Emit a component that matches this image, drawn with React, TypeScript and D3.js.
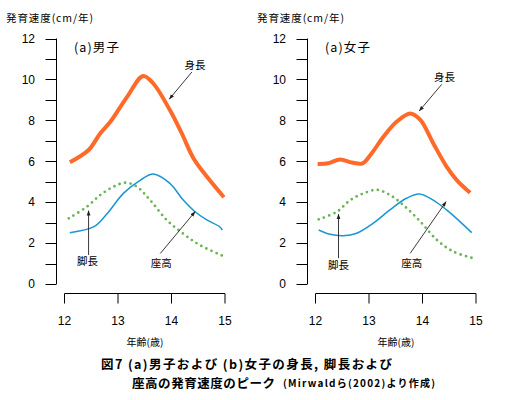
import React, { useEffect, useRef } from "react";
import * as d3 from "d3";

// 男子
const boysHeightAge = [12.1, 12.45, 12.67, 12.86, 13.17, 13.47, 13.66, 13.97, 14.19, 14.41, 14.66, 14.98];
const boysHeight = [5.95, 6.55, 7.37, 7.94, 9.15, 10.17, 9.8, 8.5, 7.37, 6.15, 5.25, 4.24];
const boysSitAge = [12.1, 12.55, 12.8, 13.1, 13.42, 13.66, 13.97, 14.22, 14.44, 14.66, 14.9, 14.95];
const boysSit = [2.51, 2.8, 3.45, 4.43, 5.08, 5.38, 4.92, 4.1, 3.53, 3.13, 2.8, 2.64];
const boysLegAge = [12.08, 12.42, 12.67, 12.92, 13.14, 13.35, 13.6, 13.91, 14.22, 14.53, 15.0];
const boysLeg = [3.21, 3.78, 4.35, 4.76, 4.95, 4.76, 4.1, 3.13, 2.46, 1.9, 1.33];

// 女子
const girlsHeightAge = [12.04, 12.24, 12.46, 12.68, 12.88, 13.05, 13.27, 13.52, 13.77, 13.96, 14.2, 14.45, 14.64, 14.89];
const girlsHeight = [5.87, 5.9, 6.09, 5.94, 5.9, 6.39, 7.2, 7.94, 8.34, 8.02, 6.88, 5.74, 5.08, 4.46];
const girlsSitAge = [12.06, 12.27, 12.52, 12.77, 13.08, 13.39, 13.7, 13.94, 14.2, 14.45, 14.7, 14.92];
const girlsSit = [2.64, 2.43, 2.36, 2.48, 2.97, 3.62, 4.19, 4.4, 4.1, 3.62, 3.05, 2.51];
const girlsLegAge = [12.06, 12.4, 12.65, 12.9, 13.15, 13.39, 13.64, 13.96, 14.27, 14.58, 14.95];
const girlsLeg = [3.16, 3.53, 4.1, 4.43, 4.6, 4.35, 3.86, 3.05, 2.15, 1.58, 1.26];

const xTicks = [12, 13, 14, 15];
const yTicks = [0, 2, 4, 6, 8, 10, 12];
const yMinorTicks = [1, 3, 5, 7, 9, 11];

// label, text age/value, arrow from, arrow to
const boysNotes = [
  { label: "身長", tx: 14.44, ty: 10.7, x1: 14.38, y1: 10.36, x2: 13.96, y2: 9.04 },
  { label: "脚長", tx: 12.43, ty: 1.09, x1: 12.45, y1: 1.42, x2: 12.45, y2: 3.58 },
  { label: "座高", tx: 13.81, ty: 1.03, x1: 13.79, y1: 1.49, x2: 14.44, y2: 3.53 },
];
const girlsNotes = [
  { label: "身長", tx: 14.41, ty: 10.13, x1: 14.36, y1: 9.76, x2: 13.94, y2: 8.46 },
  { label: "脚長", tx: 12.43, ty: 0.93, x1: 12.43, y1: 1.26, x2: 12.43, y2: 3.41 },
  { label: "座高", tx: 13.8, ty: 1.03, x1: 13.77, y1: 1.5, x2: 14.44, y2: 4.02 },
];

const FONT = "'Noto Sans CJK JP', 'Noto Sans', sans-serif";
const NUMFONT = "'Liberation Sans', Arial, sans-serif";

const App = () => {
  const svgRef = useRef(null);

  useEffect(() => {
    const svgEl = d3.select(svgRef.current);
    svgEl.selectAll("*").remove();

    const defs = svgEl.append("defs");
    defs
      .append("marker")
      .attr("id", "arrow")
      .attr("viewBox", "0 0 10 10")
      .attr("refX", 9)
      .attr("refY", 5)
      .attr("markerWidth", 6)
      .attr("markerHeight", 6)
      .attr("orient", "auto")
      .append("path")
      .attr("d", "M0,1.5 L10,5 L0,8.5 Z")
      .attr("fill", "#222");

    const drawPanel = (offset, title, height, heightAge, sit, sitAge, leg, legAge, notes) => {
      const g = svgEl.append("g").attr("transform", `translate(${offset},0)`);
      const axisX = 56.5;
      const x = d3.scaleLinear().domain([12, 15]).range([64.5, 225]);
      const y = d3.scaleLinear().domain([0, 12]).range([284, 38.5]);

      // y axis
      g.append("line")
        .attr("x1", axisX).attr("x2", axisX)
        .attr("y1", y(12)).attr("y2", y(0))
        .attr("stroke", "#000").attr("stroke-width", 1);
      g.selectAll(".ymaj")
        .data(yTicks.concat(yMinorTicks))
        .enter()
        .append("line")
        .attr("x1", axisX - 11).attr("x2", axisX)
        .attr("y1", (d) => Math.round(y(d)) + 0.5)
        .attr("y2", (d) => Math.round(y(d)) + 0.5)
        .attr("stroke", "#000");
      g.selectAll(".ylab")
        .data(yTicks)
        .enter()
        .append("text")
        .attr("x", 35)
        .attr("y", (d) => y(d))
        .attr("dy", "0.36em")
        .attr("text-anchor", "end")
        .style("font-family", NUMFONT)
        .style("font-size", "12px")
        .text((d) => d);

      // x axis
      const axisY = 293.5;
      g.append("line")
        .attr("x1", x(12)).attr("x2", x(15))
        .attr("y1", axisY).attr("y2", axisY)
        .attr("stroke", "#000");
      g.selectAll(".xt")
        .data(xTicks)
        .enter()
        .append("line")
        .attr("x1", (d) => x(d)).attr("x2", (d) => x(d))
        .attr("y1", axisY).attr("y2", axisY + 10)
        .attr("stroke", "#000");
      g.selectAll(".xlab")
        .data(xTicks)
        .enter()
        .append("text")
        .attr("x", (d) => x(d))
        .attr("y", 321)
        .attr("dy", "0.36em")
        .attr("text-anchor", "middle")
        .style("font-family", NUMFONT)
        .style("font-size", "12px")
        .text((d) => d);

      g.append("text")
        .attr("x", 145)
        .attr("y", 342)
        .attr("dy", "0.36em")
        .attr("text-anchor", "middle")
        .style("font-family", FONT)
        .style("font-size", "10px")
        .text("年齢(歳)");

      g.append("text")
        .attr("x", 6)
        .attr("y", 18)
        .attr("dy", "0.36em")
        .attr("textLength", 87)
        .attr("lengthAdjust", "spacing")
        .style("font-family", FONT)
        .style("font-size", "10.5px")
        .text("発育速度(cm/年)");

      g.append("text")
        .attr("x", 74)
        .attr("y", 47)
        .attr("dy", "0.36em")
        .attr("textLength", 45)
        .attr("lengthAdjust", "spacing")
        .style("font-family", FONT)
        .style("font-size", "12.5px")
        .text(title);

      const line = d3
        .line()
        .x((d) => x(d[0]))
        .y((d) => y(d[1]))
        .curve(d3.curveCatmullRom.alpha(0.5));

      g.append("path")
        .datum(legAge.map((a, i) => [a, leg[i]]))
        .attr("fill", "none")
        .attr("stroke", "#6db35a")
        .attr("stroke-width", 2.8)
        .attr("stroke-linecap", "round")
        .attr("stroke-dasharray", "0 5.6")
        .attr("d", line);

      g.append("path")
        .datum(sitAge.map((a, i) => [a, sit[i]]))
        .attr("fill", "none")
        .attr("stroke", "#1996d3")
        .attr("stroke-width", 1.5)
        .attr("d", line);

      g.append("path")
        .datum(heightAge.map((a, i) => [a, height[i]]))
        .attr("fill", "none")
        .attr("stroke", "#ff6a2a")
        .attr("stroke-width", 4)
        .attr("d", line);

      notes.forEach((n) => {
        g.append("line")
          .attr("x1", x(n.x1)).attr("y1", y(n.y1))
          .attr("x2", x(n.x2)).attr("y2", y(n.y2))
          .attr("stroke", "#222")
          .attr("stroke-width", 0.9)
          .attr("marker-end", "url(#arrow)");
        g.append("text")
          .attr("x", x(n.tx))
          .attr("y", y(n.ty))
          .attr("dy", "0.36em")
          .attr("text-anchor", "middle")
          .style("font-family", FONT)
          .style("font-size", "10.5px")
          .text(n.label);
      });
    };

    drawPanel(0, "(a)男子", boysHeight, boysHeightAge, boysSit, boysSitAge, boysLeg, boysLegAge, boysNotes);
    drawPanel(251, "(a)女子", girlsHeight, girlsHeightAge, girlsSit, girlsSitAge, girlsLeg, girlsLegAge, girlsNotes);

    // caption
    svgEl.append("text")
      .attr("x", 101)
      .attr("y", 364.5)
      .attr("dy", "0.36em")
      .attr("textLength", 291)
      .attr("lengthAdjust", "spacing")
      .style("font-family", FONT)
      .style("font-size", "12.5px")
      .style("font-weight", "bold")
      .text("図7 (a)男子および (b)女子の身長, 脚長および");
    svgEl.append("text")
      .attr("x", 132)
      .attr("y", 383)
      .attr("dy", "0.36em")
      .attr("textLength", 143)
      .attr("lengthAdjust", "spacing")
      .style("font-family", FONT)
      .style("font-weight", "bold")
      .style("font-size", "12.5px")
      .text("座高の発育速度のピーク");
    svgEl.append("text")
      .attr("x", 283)
      .attr("y", 383.5)
      .attr("dy", "0.36em")
      .attr("textLength", 152)
      .attr("lengthAdjust", "spacing")
      .style("font-family", FONT)
      .style("font-weight", "bold")
      .style("font-size", "10px")
      .text("(Mirwaldら(2002)より作成)");
  }, []);

  return (
    <svg
      ref={svgRef}
      width={512}
      height={400}
      style={{ position: "absolute", left: 0, top: 0, background: "#fff" }}
    />
  );
};

export default App;
